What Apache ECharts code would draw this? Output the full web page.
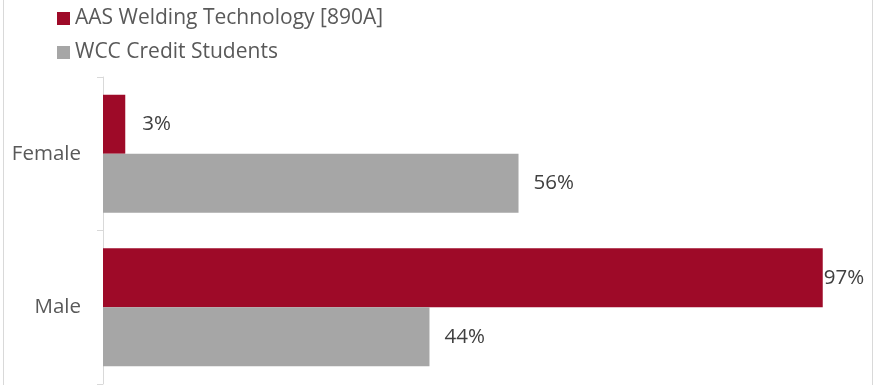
<!DOCTYPE html>
<html>
<head>
<meta charset="utf-8">
<script src="https://cdn.jsdelivr.net/npm/echarts@6/dist/echarts.min.js"></script>
<style>
  html, body { margin: 0; padding: 0; background: #fff; }
  #chart { width: 874px; height: 385px; }
</style>
</head>
<body>
<div id="chart"></div>
<script>
// 类别与数据
var categories = ["Female", "Male"];
var seriesNames = ["AAS Welding Technology [890A]", "WCC Credit Students"];
var weldingValues = [0.03, 0.97];
var wccValues = [0.56, 0.44];
var colors = ['#9e0a28', '#a6a6a6'];

var font = '"Open Sans", sans-serif';

function pct(p) {
    return Math.round(p.value * 100) + '%';
}

var option = {
    animation: false,
    color: colors,
    legend: {
        data: seriesNames,
        orient: 'vertical',
        left: 52,
        top: 3,
        itemWidth: 13,
        itemHeight: 13,
        itemGap: 13,
        icon: 'rect',
        textStyle: { color: '#595959', fontSize: 21, fontFamily: font }
    },
    grid: {
        left: 103,
        right: 29,
        top: 77,
        bottom: 1
    },
    xAxis: {
        type: 'value',
        min: 0,
        max: 1,
        show: false
    },
    yAxis: {
        type: 'category',
        data: categories,
        inverse: true,
        axisLine: { show: true, lineStyle: { color: '#d9d9d9', width: 1 } },
        axisTick: { show: true, length: 6, lineStyle: { color: '#d9d9d9' } },
        axisLabel: { color: '#595959', fontSize: 20.5, fontFamily: font, margin: 22 },
        splitLine: { show: false }
    },
    series: [
        {
            name: seriesNames[0],
            type: 'bar',
            barGap: '0%',
            barCategoryGap: '23%',
            data: [
                { value: weldingValues[0] },
                { value: weldingValues[1], label: { distance: 1 } }
            ],
            label: {
                show: true,
                position: 'right',
                distance: 17,
                color: '#404040',
                fontSize: 20.5,
                fontFamily: font,
                formatter: pct
            }
        },
        {
            name: seriesNames[1],
            type: 'bar',
            data: wccValues,
            label: {
                show: true,
                position: 'right',
                distance: 15,
                color: '#404040',
                fontSize: 20.5,
                fontFamily: font,
                formatter: pct
            }
        }
    ],
    graphic: [
        { type: 'line', shape: { x1: 3.5, y1: 0, x2: 3.5, y2: 385 }, style: { stroke: '#d9d9d9', lineWidth: 1 } },
        { type: 'line', shape: { x1: 872.5, y1: 0, x2: 872.5, y2: 385 }, style: { stroke: '#d9d9d9', lineWidth: 1 } }
    ]
};

var dom_chart = echarts.init(document.getElementById('chart'));
dom_chart.setOption(option);
</script>
</body>
</html>
